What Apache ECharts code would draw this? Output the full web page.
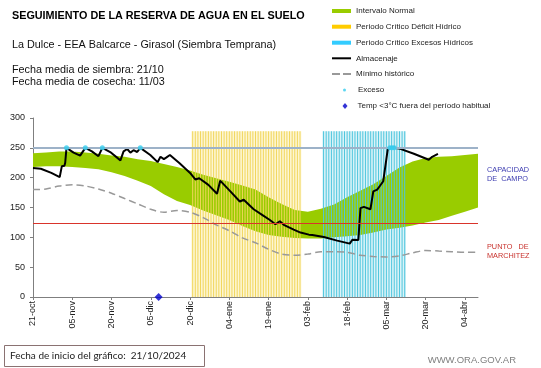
<!DOCTYPE html>
<html>
<head>
<meta charset="utf-8">
<script src="https://cdn.jsdelivr.net/npm/echarts@6/dist/echarts.min.js"></script>
<style>
html,body{margin:0;padding:0;background:#fff;}
#chart{width:541px;height:368px;}
</style>
</head>
<body>
<div id="chart"></div>
<script>
// ---- Data (x = days since 21-oct-2024) ----
const tickLabels = ['21-oct','05-nov','20-nov','05-dic','20-dic','04-ene','19-ene','03-feb','18-feb','05-mar','20-mar','04-abr'];
const tickDays = [0,15,30,45,60,75,90,105,120,135,150,165];

const bandDays = [0,5,10,15,20,25,30,35,40,45,50,55,60,65,70,75,80,85,90,95,100,105,110,115,120,125,130,135,140,145,150,155,160,165,170];
const bandHigh = [241,242,244,244,242,240,237,235,231,228,223,218,212,205,199,193,187,180,167,156,146,143,148,155,167,178,189,203,217,227,233,235,236,238,240];
const bandLow  = [218,219,219,218,216,214,209,203,195,186,172,161,154,145,137,129,119,110,104,101,99,98,98,100,102,104,108,113,116,120,125,129,136,143,150];

const minDays = [0,5,10,15,20,25,30,35,40,45,50,55,60,65,70,75,80,85,90,95,100,105,110,115,120,125,130,135,140,145,150,155,160,165,170];
const minValues = [180,181,186,188,186,181,174,165,156,147,142,145,142,133,121,111,99,91,80,72,70,72,76,76,75,70,68,67,69,74,78,77,76,75,75];

const storeDays = [0,3,7,10.2,11,12,12.3,12.8,15.5,18,20,22.5,25,26.5,29.5,33.4,34.6,36,37.2,38.4,39.8,41,44.8,47.6,48.7,50,51,52.3,56,60,62,63.5,67,70.3,71.5,75.4,79,80.5,84.3,88.1,90.5,92.6,94.3,95.8,99.6,102.2,105.4,106.7,107.3,111.1,116.2,121,122,124.3,125.1,126.4,128.9,130,131.5,132.5,133.8,134.3,135.5,136.3,138,139.8,145.5,151.2,152.5,154.7];
const storeValues = [216,215,208,201,219,220,225,250,242,237,250,244,236,250,243,229,244,248,242,246,243,250,238,226,235,231,234,238,224,208,197,199,188,173,195,177,160,163,147,136,129,122,127,121,113,108,104.5,104,107,100.5,94.5,89.5,96,95.5,149,151,147,177,180,186,194,196,247,250,250,249,240,230,235,240];

const excesoDays = [12.8,20,26.5,41,136.3,137.2,138];
const excesoValues = [250,250,250,250,250,250,250];

const frostDays = [48];
const frostValues = [0];

const deficitDays = [61,62,63,64,65,66,67,68,69,70,71,72,73,74,75,76,77,78,79,80,81,82,83,84,85,86,87,88,89,90,91,92,93,94,95,96,97,98,99,100,101,102];
const excessDays = [111,112,113,114,115,116,117,118,119,120,121,122,123,124,125,126,127,128,129,130,131,132,133,134,135,136,137,138,139,140,141,142];
const stripeTop = 278;

const capacity = 250;
const wilting = 124;

// ---- Chart ----
const FONT = '"Liberation Sans", Arial, sans-serif';
const chart = echarts.init(document.getElementById('chart'), null, {renderer: 'canvas'});

const pair = (xs, ys) => xs.map((d, i) => [d, ys[i]]);
const periods = [
  [deficitDays[0], deficitDays[deficitDays.length - 1], '#fdf6d2'],
  [excessDays[0], excessDays[excessDays.length - 1], '#daf3f8']
];

function legendItem(name, icon, top, color, opts) {
  return Object.assign({
    data: [{name: name, icon: icon}],
    left: 332, top: top,
    orient: 'vertical',
    padding: 0,
    itemWidth: 19, itemHeight: 4,
    selectedMode: false,
    itemStyle: {color: color, borderWidth: 0},
    lineStyle: {width: 0},
    textStyle: {fontSize: 8, color: '#222', fontFamily: FONT, lineHeight: 12}
  }, opts || {});
}

const option = {
  animation: false,
  backgroundColor: '#fff',
  textStyle: {fontFamily: FONT},
  grid: {left: 33, right: 63, top: 118, bottom: 71, containLabel: false, outerBoundsMode: 'none'},
  legend: [
    legendItem('Intervalo Normal', 'rect', 5, '#99cc00'),
    legendItem('Periodo Crítico Déficit Hídrico', 'rect', 20.7, '#ffcc00'),
    legendItem('Periodo Crítico Excesos Hídricos', 'rect', 36.7, '#33ccff'),
    legendItem('Almacenaje', 'rect', 52.3, '#000000', {itemHeight: 2}),
    legendItem('Mínimo histórico', 'path://M0,0h8v2h-8zM11,0h8v2h-8z', 68, '#999999', {itemHeight: 2}),
    legendItem('Exceso', 'circle', 84, '#33ccee', {itemHeight: 3, itemWidth: 3, left: 343, textStyle: {fontSize: 8, color: '#222', fontFamily: FONT, lineHeight: 12, padding: [0, 0, 0, 7]}}),
    legendItem('Temp <3°C fuera del período habitual', 'diamond', 100, '#0000cc', {itemHeight: 6, itemWidth: 5, left: 342.5, textStyle: {fontSize: 8, color: '#222', fontFamily: FONT, lineHeight: 12, padding: [0, 0, 0, 5]}})
  ],
  xAxis: {
    type: 'value', min: 0, max: 170, interval: 15,
    axisLine: {show: true, lineStyle: {color: '#7f7f7f', width: 1}},
    axisTick: {show: true, length: 3, customValues: tickDays, lineStyle: {color: '#7f7f7f'}},
    axisLabel: {
      rotate: 90, fontSize: 9, color: '#222', margin: 4, customValues: tickDays,
      formatter: function (v) { const i = tickDays.indexOf(v); return i >= 0 ? tickLabels[i] : ''; }
    },
    splitLine: {show: false}
  },
  yAxis: {
    type: 'value', min: 0, max: 300, interval: 50,
    name: 'Milímetros', nameLocation: 'middle', nameGap: 26,
    nameTextStyle: {fontSize: 7, color: '#222'},
    axisLine: {show: true, lineStyle: {color: '#7f7f7f', width: 1}},
    axisTick: {show: true, length: 3, lineStyle: {color: '#7f7f7f'}},
    axisLabel: {fontSize: 9, color: '#222', margin: 8},
    splitLine: {show: false}
  },
  series: [
    {
      name: 'periodBackground', type: 'custom', z: 0, silent: true,
      data: periods.map(p => [p[0], p[1]]),
      renderItem: function (params, api) {
        const a = api.coord([api.value(0) - 0.5, stripeTop]);
        const b = api.coord([api.value(1) + 0.5, 0]);
        return {type: 'rect', shape: {x: a[0], y: a[1], width: b[0] - a[0], height: b[1] - a[1]},
                style: {fill: periods[params.dataIndex][2]}};
      }
    },
    {
      name: 'Intervalo Normal', type: 'custom', z: 1, silent: true,
      data: [[bandDays[0], bandLow[0]]],
      itemStyle: {color: '#99cc00'},
      renderItem: function (params, api) {
        const pts = [];
        for (let i = 0; i < bandDays.length; i++) pts.push(api.coord([bandDays[i], bandHigh[i]]));
        for (let i = bandDays.length - 1; i >= 0; i--) pts.push(api.coord([bandDays[i], bandLow[i]]));
        return {type: 'polygon', shape: {points: pts}, style: {fill: '#99cc00', stroke: null}};
      }
    },
    {
      name: 'Periodo Crítico Déficit Hídrico', type: 'bar', z: 2, silent: true,
      data: deficitDays.map(d => [d, stripeTop]), barWidth: 1, barGap: '-100%',
      itemStyle: {color: '#f1d65c'}
    },
    {
      name: 'Periodo Crítico Excesos Hídricos', type: 'bar', z: 2, silent: true,
      data: excessDays.map(d => [d, stripeTop]), barWidth: 1, barGap: '-100%',
      itemStyle: {color: '#4fc6dd'},
      markLine: {
        silent: true, symbol: 'none', label: {show: false},
        lineStyle: {color: '#d9342b', width: 1, type: 'solid', opacity: 1},
        data: [{yAxis: wilting}]
      }
    },
    {
      name: 'Mínimo histórico', type: 'line', z: 3, silent: true,
      data: pair(minDays, minValues), symbol: 'none', smooth: 0.3,
      itemStyle: {color: '#999999'},
      lineStyle: {color: '#999999', width: 1.5, type: [7, 4]},
      markLine: {
        silent: true, symbol: 'none', label: {show: false},
        lineStyle: {color: '#9db2c8', width: 2, type: 'solid', opacity: 1},
        data: [{yAxis: capacity}]
      }
    },
    {
      name: 'Almacenaje', type: 'line', z: 4, silent: true,
      data: pair(storeDays, storeValues), symbol: 'none',
      itemStyle: {color: '#000'},
      lineStyle: {color: '#000', width: 2}
    },
    {
      name: 'Exceso', type: 'scatter', z: 5, silent: true,
      data: pair(excesoDays, excesoValues), symbol: 'circle', symbolSize: 5,
      itemStyle: {color: '#33ccee'}
    },
    {
      name: 'Temp <3°C fuera del período habitual', type: 'scatter', z: 5, silent: true, clip: false,
      data: pair(frostDays, frostValues), symbol: 'diamond', symbolSize: 8,
      itemStyle: {color: '#0000cc'}
    }
  ],
  graphic: [
    {type: 'text', x: 12, y: 16.5, style: {text: 'SEGUIMIENTO DE LA RESERVA DE AGUA EN EL SUELO', font: 'bold 10.8px ' + FONT, fill: '#000', verticalAlign: 'middle'}},
    {type: 'text', x: 12, y: 45, style: {text: 'La Dulce - EEA Balcarce - Girasol (Siembra Temprana)', font: '10.8px ' + FONT, fill: '#111', verticalAlign: 'middle'}},
    {type: 'text', x: 12, y: 70.5, style: {text: 'Fecha media de siembra: 21/10', font: '10.8px ' + FONT, fill: '#111', verticalAlign: 'middle'}},
    {type: 'text', x: 12, y: 82.5, style: {text: 'Fecha media de cosecha: 11/03', font: '10.8px ' + FONT, fill: '#111', verticalAlign: 'middle'}},
    {type: 'text', x: 487, y: 170, style: {text: 'CAPACIDAD', font: '7.3px ' + FONT, fill: '#3b3bb0', verticalAlign: 'middle'}},
    {type: 'text', x: 487, y: 179, style: {text: 'DE  CAMPO', font: '7.3px ' + FONT, fill: '#3b3bb0', verticalAlign: 'middle'}},
    {type: 'text', x: 487, y: 247, style: {text: 'PUNTO   DE', font: '7.3px ' + FONT, fill: '#c8322d', verticalAlign: 'middle'}},
    {type: 'text', x: 487, y: 255.5, style: {text: 'MARCHITEZ', font: '7.3px ' + FONT, fill: '#c8322d', verticalAlign: 'middle'}},
    {type: 'rect', shape: {x: 4.5, y: 345.5, width: 200, height: 21}, style: {fill: '#fff', stroke: '#8a7272', lineWidth: 1}},
    {type: 'text', x: 10, y: 356, style: {text: 'Fecha de inicio del gráfico:  21/10/2024', font: '10px Lato, sans-serif', fill: '#222', verticalAlign: 'middle'}},
    {type: 'text', x: 516, y: 360, style: {text: 'WWW.ORA.GOV.AR', font: '9.5px ' + FONT, fill: '#7f7f7f', align: 'right', verticalAlign: 'middle'}}
  ]
};

chart.setOption(option);
</script>
</body>
</html>
